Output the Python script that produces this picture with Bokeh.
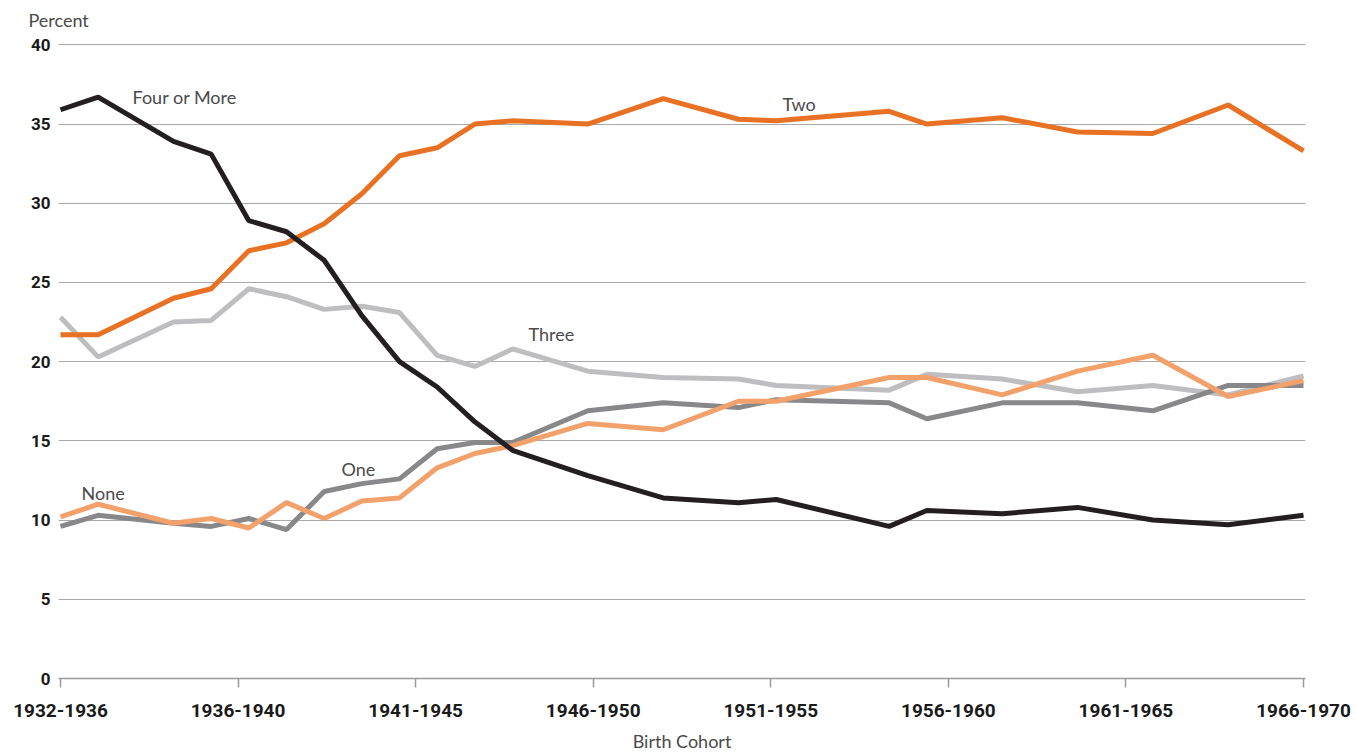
from bokeh.plotting import figure
from bokeh.models import FixedTicker, Label, Range1d, Title
from bokeh.embed import file_html
from bokeh.resources import INLINE

# ---------------- data ----------------
tick_labels = ["1932-1936", "1936-1940", "1941-1945", "1946-1950",
               "1951-1955", "1956-1960", "1961-1965", "1966-1970"]
# position of each observation along the cohort scale (0 = 1932-1936, 33 = 1966-1970)
cohort_step = [0, 1, 3, 4, 5, 6, 7, 8, 9, 10, 11, 12, 14, 16, 18, 19, 22, 23, 25, 27, 29, 31, 33]

four_or_more = [35.9, 36.7, 33.9, 33.1, 28.9, 28.2, 26.4, 22.9, 20.0, 18.4, 16.2, 14.4,
                12.8, 11.4, 11.1, 11.3, 9.6, 10.6, 10.4, 10.8, 10.0, 9.7, 10.3]
two = [21.7, 21.7, 24.0, 24.6, 27.0, 27.5, 28.7, 30.6, 33.0, 33.5, 35.0, 35.2,
       35.0, 36.6, 35.3, 35.2, 35.8, 35.0, 35.4, 34.5, 34.4, 36.2, 33.3]
three = [22.8, 20.3, 22.5, 22.6, 24.6, 24.1, 23.3, 23.5, 23.1, 20.4, 19.7, 20.8,
         19.4, 19.0, 18.9, 18.5, 18.2, 19.2, 18.9, 18.1, 18.5, 17.9, 19.1]
one = [9.6, 10.3, 9.8, 9.6, 10.1, 9.4, 11.8, 12.3, 12.6, 14.5, 14.9, 14.9,
       16.9, 17.4, 17.1, 17.6, 17.4, 16.4, 17.4, 17.4, 16.9, 18.5, 18.5]
none = [10.2, 11.0, 9.8, 10.1, 9.5, 11.1, 10.1, 11.2, 11.4, 13.3, 14.2, 14.7,
        16.1, 15.7, 17.5, 17.5, 19.0, 19.0, 17.9, 19.4, 20.4, 17.8, 18.8]

# ---------------- layout ----------------
W, H = 1356, 754
n_ticks = len(tick_labels) - 1
last_step = cohort_step[-1]
x = [s * n_ticks / last_step for s in cohort_step]

px_per_x = 1243 / n_ticks
pad = 2 / px_per_x
frame_h = 642
px_per_y = (678 - 44.3) / 40

p = figure(width=W, height=H, output_backend="svg", toolbar_location=None,
           x_range=Range1d(-pad, n_ticks + pad), y_range=Range1d(0, frame_h / px_per_y),
           min_border_left=58, min_border_right=51, min_border_top=36, min_border_bottom=76)
p.outline_line_color = None
p.background_fill_color = "white"
p.border_fill_color = "white"

# "Percent" heading as a left-aligned title above the frame
p.add_layout(Title(text="Percent", align="left", offset=-30, standoff=11,
                   text_font="Lato", text_font_size="18px", text_font_style="normal",
                   text_color="#4a4a4a"), "above")

# grid
p.xgrid.visible = False
p.ygrid.ticker = FixedTicker(ticks=[5, 10, 15, 20, 25, 30, 35, 40])
p.ygrid.grid_line_color = "#a9a9a9"
p.ygrid.grid_line_width = 1.2

# y axis
p.yaxis.ticker = FixedTicker(ticks=[0, 5, 10, 15, 20, 25, 30, 35, 40])
p.yaxis.axis_line_color = None
p.yaxis.major_tick_line_color = None
p.yaxis.minor_tick_line_color = None
p.yaxis.major_tick_out = 0
p.yaxis.major_tick_in = 0
p.yaxis.major_label_standoff = 8
p.yaxis.major_label_text_font = "Roboto"
p.yaxis.major_label_text_font_style = "bold"
p.yaxis.major_label_text_font_size = "17px"
p.yaxis.major_label_text_color = "#1a1a1a"

# x axis
p.xaxis.ticker = FixedTicker(ticks=list(range(n_ticks + 1)))
p.xaxis.major_label_overrides = {i: lab for i, lab in enumerate(tick_labels)}
p.xaxis.axis_line_color = "#9a9a9a"
p.xaxis.axis_line_width = 1.5
p.xaxis.major_tick_line_color = "#9a9a9a"
p.xaxis.major_tick_line_width = 1.5
p.xaxis.major_tick_out = 9
p.xaxis.major_tick_in = 0
p.xaxis.minor_tick_line_color = None
p.xaxis.major_label_standoff = 16
p.xaxis.major_label_text_font = "Roboto"
p.xaxis.major_label_text_font_style = "bold"
p.xaxis.major_label_text_font_size = "19px"
p.xaxis.major_label_text_color = "#1a1a1a"
p.xaxis.axis_label = "Birth Cohort"
p.xaxis.axis_label_standoff = 10
p.xaxis.axis_label_text_font = "Lato"
p.xaxis.axis_label_text_font_size = "18px"
p.xaxis.axis_label_text_font_style = "normal"
p.xaxis.axis_label_text_color = "#4a4a4a"

# series
lw = 5
p.line(x, three, line_color="#bebec1", line_width=lw)
p.line(x, one, line_color="#88888b", line_width=lw)
p.line(x, none, line_color="#f3a16b", line_width=lw)
p.line(x, two, line_color="#e87124", line_width=lw)
p.line(x, four_or_more, line_color="#231f20", line_width=lw)

# series labels
def xd(px):
    return (px - 60) / px_per_x

def yd(py):
    return (678 - py) / px_per_y

lab_style = dict(text_font="Lato", text_font_size="18px", text_color="#4a4a4a",
                 text_baseline="middle", text_align="left")
for txt, px, py in [("Four or More", 132, 96), ("Two", 782, 103), ("Three", 528, 333),
                    ("One", 341, 468), ("None", 81, 492)]:
    p.add_layout(Label(x=xd(px), y=yd(py), text=txt, **lab_style))

open("out.html", "w").write(file_html(p, INLINE))
